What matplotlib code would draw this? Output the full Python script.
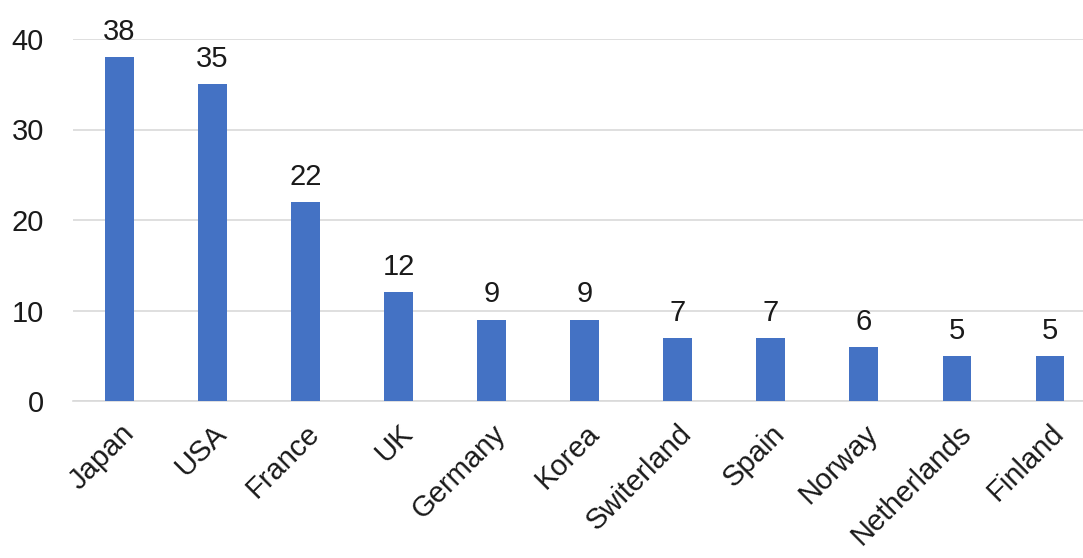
import matplotlib
matplotlib.use("Agg")
import matplotlib.pyplot as plt

countries = ["Japan", "USA", "France", "UK", "Germany", "Korea", "Switerland",
             "Spain", "Norway", "Netherlands", "Finland"]
values = [38, 35, 22, 12, 9, 9, 7, 7, 6, 5, 5]
yticks = [0, 10, 20, 30, 40]

plt.rcParams['font.family'] = ['Liberation Sans', 'DejaVu Sans']

fig = plt.figure(figsize=(10.83, 5.58), dpi=100)
W, H = 1083, 558
left_px, right_px = 73, 1096.5
top_px, bottom_px = 39, 401
ax = fig.add_axes([left_px / W, 1 - bottom_px / H, (right_px - left_px) / W, (bottom_px - top_px) / H])

x = list(range(len(countries)))
bars = ax.bar(x, values, width=0.31, color="#4472C4", zorder=3)
for xi, v in zip(x, values):
    ax.annotate(str(v), (xi, v), xytext=(0, 8), textcoords="offset points",
                ha="center", va="bottom", fontsize=21, color="#1a1a1a", clip_on=False)

ax.set_xlim(-0.5, len(countries) - 0.5)
ax.set_ylim(0, 40)
ax.set_yticks(yticks)
ax.set_yticklabels([str(t) for t in yticks], fontsize=21, color="#1a1a1a")
ax.set_xticks(x)
ax.set_xticklabels(countries, rotation=45, ha="right", rotation_mode="anchor",
                   fontsize=21, color="#1a1a1a")
ax.tick_params(axis="both", length=0)
ax.tick_params(axis="y", pad=21)
ax.tick_params(axis="x", pad=13)
ax.yaxis.grid(True, color="#D9D9D9", linewidth=1.2, zorder=0)
for s in ["top", "right", "left"]:
    ax.spines[s].set_visible(False)
ax.spines["bottom"].set_color("#D9D9D9")
ax.spines["bottom"].set_linewidth(1.2)

fig.savefig("out.png", dpi=100)
